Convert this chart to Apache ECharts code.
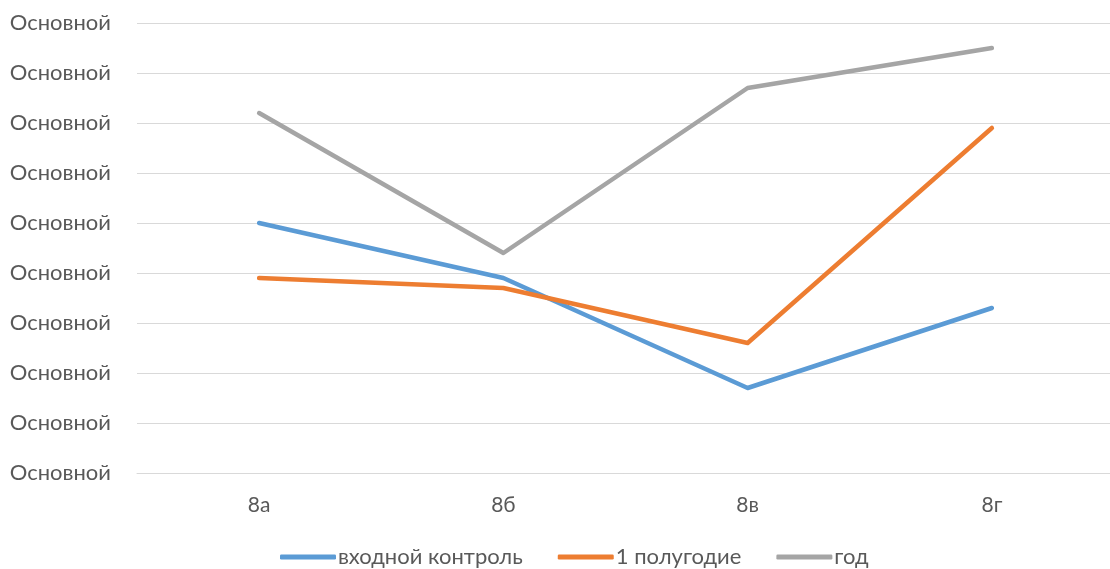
<!DOCTYPE html>
<html><head><meta charset="utf-8">
<script src="https://cdn.jsdelivr.net/npm/echarts@6/dist/echarts.min.js"></script>
<style>html,body{margin:0;padding:0;background:#fff}#c{width:1110px;height:569px}</style>
</head><body><div id="c"></div>
<script>
const categories = ['8а', '8б', '8в', '8г'];
const seriesNames = ['входной контроль', '1 полугодие', 'год'];
const entryControl = [5.0, 3.9, 1.7, 3.3];
const firstHalf = [3.9, 3.7, 2.6, 6.9];
const year = [7.2, 4.4, 7.7, 8.5];
const yTickLabel = 'Основной';

const colors = ['#5B9BD5', '#ED7D31', '#A5A5A5'];
const font = 'Lato, "Open Sans", sans-serif';
const chart = echarts.init(document.getElementById('c'), null, {renderer: 'canvas'});
const mk = (name, data, color) => ({
  name, type: 'line', data, symbol: 'none', showSymbol: false,
  lineStyle: {color, width: 4.5, cap: 'round', join: 'round'},
  itemStyle: {color}, emphasis: {disabled: true}
});
chart.setOption({
  animation: false,
  color: colors,
  grid: {left: 137, width: 977, top: 23, height: 450, containLabel: false, outerBoundsMode: 'none'},
  xAxis: {
    type: 'category', data: categories, boundaryGap: true,
    axisLine: {show: true, lineStyle: {color: '#D9D9D9', width: 1}},
    axisTick: {show: false},
    axisLabel: {color: '#595959', fontSize: 21, fontFamily: font, margin: 22}
  },
  yAxis: {
    type: 'value', min: 0, max: 9, interval: 1,
    axisLine: {show: false}, axisTick: {show: false},
    splitLine: {lineStyle: {color: '#D9D9D9', width: 1}},
    axisLabel: {color: '#595959', fontSize: 22, fontFamily: font, margin: 26,
      formatter: () => yTickLabel}
  },
  legend: {
    top: 541, left: 275, itemWidth: 56, itemHeight: 5, itemGap: 35,
    icon: 'roundRect',
    textStyle: {color: '#595959', fontSize: 22, fontFamily: font, padding: [0,0,0,-3]},
    data: seriesNames
  },
  series: [
    mk(seriesNames[0], entryControl, colors[0]),
    mk(seriesNames[1], firstHalf, colors[1]),
    mk(seriesNames[2], year, colors[2])
  ]
});
</script></body></html>
